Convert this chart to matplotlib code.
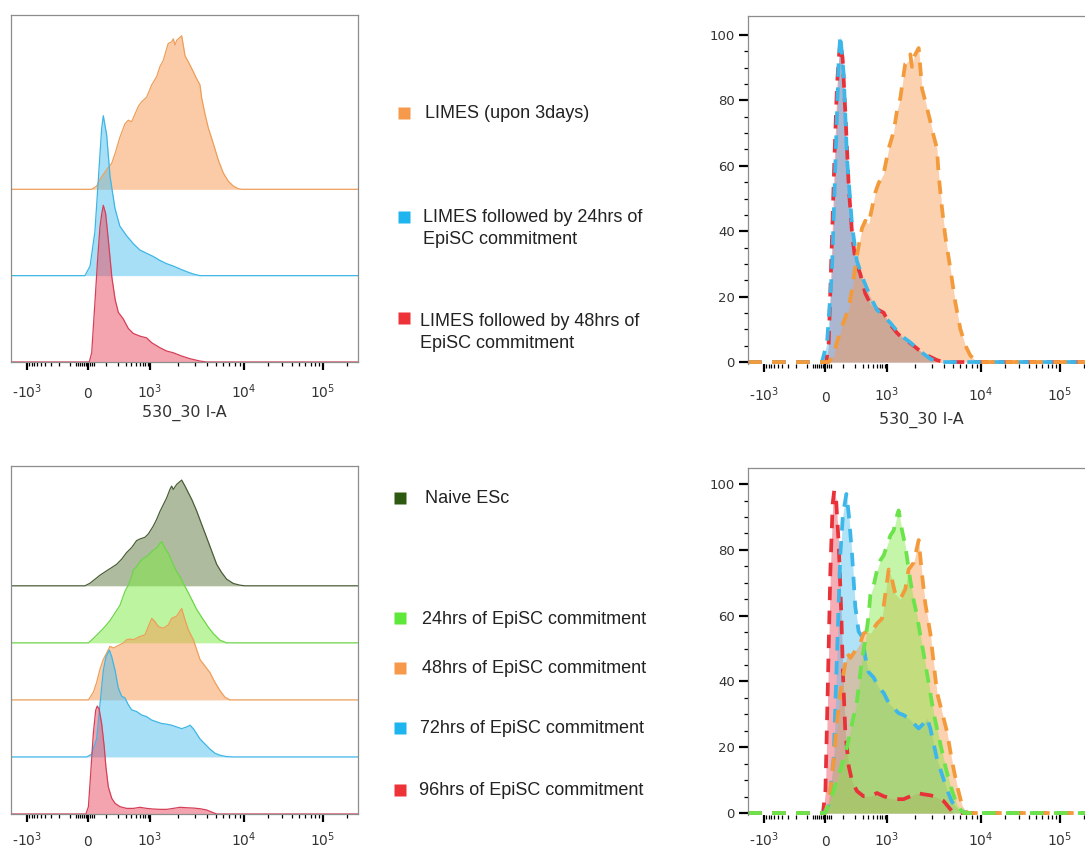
import numpy as np
import matplotlib
matplotlib.use("Agg")
import matplotlib.pyplot as plt

# ---- histogram data (x: 530_30 I-A intensity, y: % of mode shape) ----
lim_x = [18, 43, 61, 103, 142, 172, 224, 290, 344, 407, 480, 565, 665, 849, 1043, 1178, 1278,
         1386, 1503, 1566, 1700, 1772, 1846, 1923, 2088, 2175, 2266, 2361, 2562, 2893, 3140,
         3405, 3546, 3850, 4175, 4718, 5334, 6027, 6810, 7700, 8700, 9436]
lim_y = [0, 2, 6.4, 12.8, 17, 23.4, 34, 42.6, 45, 44, 49, 54, 57, 60, 68, 73.4, 80, 84, 91.5,
         95, 96, 98, 94, 97, 99, 100, 93.6, 87, 83, 76.6, 72, 68, 59.6, 49, 40, 29.8, 19, 10.6,
         5.3, 2.1, 0.4, 0]

l24_x = [-15, 10, 34, 52, 71, 81, 103, 128, 171, 222, 315, 441, 612, 845, 1084, 1277, 1504,
         1770, 2084, 2455, 2890, 3400]
l24_y = [0, 6, 27.5, 60, 92, 100, 88, 62, 42, 31, 25, 20, 16, 14, 12, 9.5, 7.5, 6, 4.2, 2.5, 1, 0]

l48_x = [6, 18, 35, 48, 61, 71, 81, 96, 115, 142, 172, 205, 266, 344, 442, 613, 849, 1043,
         1278, 1503, 1772, 2175, 2667, 3405, 4012]
l48_y = [0, 5.9, 39.7, 65, 86, 94.3, 100, 94.7, 77.8, 54.5, 40, 31.7, 27.5, 21.4, 18.2, 16.5,
         15.4, 12.3, 9.1, 7, 5.9, 3.8, 2.1, 0.6, 0]

nv_x = [-15, 10, 35, 61, 103, 142, 188, 245, 315, 407, 521, 613, 783, 921, 1086, 1178, 1278,
        1386, 1503, 1632, 1700, 1772, 1923, 2175, 2361, 2562, 2780, 3140, 3546, 4012, 4532,
        5121, 5786, 6540, 7700, 9066, 10300]
nv_y = [0, 2.5, 6.3, 10, 14.2, 17.3, 20.4, 25.2, 31.4, 36.2, 42.8, 44.3, 45.9, 49, 56.6, 62.9,
        70.4, 76.7, 83, 91.2, 94.3, 91.2, 95.9, 100, 94.3, 88, 81.8, 70.8, 58.2, 45.6, 33, 20.4,
        12.6, 6.3, 2.2, 0.6, 0]

e24_x = [2, 26, 52, 81, 128, 224, 290, 344, 407, 442, 521, 613, 722, 849, 1000, 1086, 1178,
         1278, 1331, 1446, 1566, 1772, 1923, 2088, 2230, 2460, 2780, 3140, 3546, 4175, 4718,
         5558, 6540]
e24_y = [0, 4.3, 9.2, 14.2, 22, 37, 50.8, 57, 65.3, 72, 75.2, 80.2, 83.5, 85.1, 88.4, 91.7,
         93.4, 98.3, 100, 93.4, 88.4, 76.9, 70.3, 65.3, 60, 52.5, 42.9, 33, 25.4, 15.5, 9.2,
         2.6, 0]

e48_x = [2, 26, 43, 61, 81, 103, 128, 156, 188, 224, 266, 315, 375, 442, 521, 613, 783, 921,
         1043, 1130, 1227, 1386, 1566, 1700, 1923, 2175, 2361, 2562, 2893, 3140, 3405, 3850,
         4350, 4915, 5558, 6280, 7096]
e48_y = [0, 8.3, 19.1, 33.5, 44.2, 51.4, 58.6, 56.8, 58.6, 60.4, 62.2, 65.8, 66.5, 65.8, 67.6,
         69.4, 71.2, 80.2, 89.2, 85.6, 80.2, 78.4, 82, 89.2, 91.7, 100, 87.4, 76.6, 65.8, 55,
         44.2, 37, 29.8, 19.1, 10.1, 2.9, 0]

e72_x = [-6, 18, 43, 61, 81, 98, 123, 142, 172, 204, 244, 290, 344, 407, 521, 665, 849, 1043,
         1178, 1331, 1503, 1700, 1923, 2175, 2460, 2670, 2893, 3140, 3405, 3850, 4350, 4915,
         5558, 6540, 7700]
e72_y = [0, 2.6, 17, 49, 81, 93.6, 100, 93.6, 80.8, 64.9, 56.9, 55.3, 48.9, 44.1, 42.5, 39.3,
         37.7, 34.5, 32.9, 31.3, 30.7, 29.7, 28.1, 26.5, 28.1, 29.7, 26.5, 21.7, 16.9, 12.1,
         7.3, 3.5, 1.6, 0.3, 0]

e96_x = [-10, 2, 13, 26, 38, 46, 56, 71, 87, 98, 115, 142, 172, 224, 315, 442, 613, 849, 1086,
         1278, 1503, 1772, 2088, 2460, 2893, 3405, 4012, 4718, 5121]
e96_y = [0, 6.8, 37.5, 74.5, 96, 100, 97.5, 83.7, 62, 43.4, 25, 14.5, 9.8, 6.8, 5.2, 5.2, 6.2,
         5.2, 4.6, 4.3, 4.3, 5.2, 6.2, 5.8, 5.5, 4.9, 3.7, 1.2, 0]

# modal height (% of max) of each sample
top_peaks = [96, 100, 98]           # LIMES, +24h, +48h
bot_peaks = [96, 92, 83, 97, 98]    # naive, 24h, 48h, 72h, 96h

top_labels = ["LIMES (upon 3days)", "LIMES followed by 24hrs of\nEpiSC commitment",
              "LIMES followed by 48hrs of\nEpiSC commitment"]
bot_labels = ["Naive ESc", "24hrs of EpiSC commitment", "48hrs of EpiSC commitment",
              "72hrs of EpiSC commitment", "96hrs of EpiSC commitment"]

x_major = [-1e3, 0, 1e3, 1e4, 1e5]
x_major_labels = ["-$10^{3}$", "0", "$10^{3}$", "$10^{4}$", "$10^{5}$"]
x_minor = ([-100 * k for k in range(1, 10)] + [-60, -50, -40, -30, -20, -10, 10, 20, 30]
           + [100 * k for k in range(1, 10)] + [1000 * k for k in range(2, 10)]
           + [10000 * k for k in range(2, 10)] + [200000])

# ---- biexponential-like display scale (anchored on the tick positions) ----
T_A = np.arcsinh(np.array(x_major) / 100.0)
P_A = np.array([27.0, 88.0, 150.0, 244.0, 323.0])
S_LO = (P_A[1] - P_A[0]) / (T_A[1] - T_A[0])
S_HI = (P_A[-1] - P_A[-2]) / (T_A[-1] - T_A[-2])


def fwd(x):
    t = np.arcsinh(np.asarray(x, float) / 100.0)
    p = np.interp(t, T_A, P_A)
    p = np.where(t < T_A[0], P_A[0] + (t - T_A[0]) * S_LO, p)
    p = np.where(t > T_A[-1], P_A[-1] + (t - T_A[-1]) * S_HI, p)
    return p


def inv(p):
    p = np.asarray(p, float)
    t = np.interp(p, P_A, T_A)
    t = np.where(p < P_A[0], T_A[0] + (p - P_A[0]) / S_LO, t)
    t = np.where(p > P_A[-1], T_A[-1] + (p - P_A[-1]) / S_HI, t)
    return 100.0 * np.sinh(t)


W, H = 1085, 851
fig = plt.figure(figsize=(W / 100, H / 100), dpi=100)


def px_axes(x0, y0, x1, y1):
    return fig.add_axes([x0 / W, 1 - y1 / H, (x1 - x0) / W, (y1 - y0) / H])


def setup_x(ax, pad):
    ax.set_xscale("function", functions=(fwd, inv))
    ax.set_xlim(inv(11), inv(358))
    ax.set_xticks(x_major)
    ax.set_xticklabels(x_major_labels)
    ax.set_xticks(x_minor, minor=True)
    ax.tick_params(axis="x", which="major", direction="out", length=6, width=1.6,
                   color="black", labelsize=10, pad=pad, labelcolor="#333333")
    ax.tick_params(axis="x", which="minor", direction="out", length=3.2, width=0.9,
                   color="black")
    # align all tick labels on their baseline, like the original
    for tk in ax.xaxis.get_major_ticks():
        tk.label1.set_verticalalignment("baseline")


def full(xs, ys, ax, scale):
    xmin, xmax = ax.get_xlim()
    x = np.concatenate([[xmin], xs, [xmax]])
    y = np.concatenate([[0], np.asarray(ys, float) * scale / 100.0, [0]])
    return x, y


base = {"orange": "#F99951", "blue": "#51C1F1", "red": "#EB4B5F",
        "dkgreen": "#617941", "green": "#7DEB41"}
edge = {"orange": "#EE9E5A", "blue": "#3DB6E6", "red": "#D54058",
        "dkgreen": "#4A5E38", "green": "#6CD648"}
dash = {"orange": "#F39A3A", "blue": "#3DB7E9", "red": "#E8323A", "green": "#6BE34A"}
square = {"orange": "#F7994A", "blue": "#1EB5EE", "red": "#EE3338",
          "dkgreen": "#2D5A10", "green": "#5EE83A"}


def stacked(ax, curves, peaks, colors, step, top, pad):
    setup_x(ax, pad)
    n = len(curves)
    for i, ((xs, ys), pk, c) in enumerate(zip(curves, peaks, colors)):
        off = (n - 1 - i) * step
        x, y = full(xs, ys, ax, pk)
        ax.fill_between(x, off, off + y, color=base[c], alpha=0.5, lw=0)
        ax.plot(x, off + y, color=edge[c], lw=0.9)
    ax.set_ylim(0, top)
    ax.set_yticks([])
    for s in ax.spines.values():
        s.set_color("#8c8c8c")
        s.set_linewidth(0.9)


def overlay(ax, curves, peaks, colors, top, pad):
    setup_x(ax, pad)
    for (xs, ys), pk, c in zip(curves, peaks, colors):
        x, y = full(xs, ys, ax, pk)
        ax.fill_between(x, 0, y, color=base[c], alpha=0.45, lw=0)
        ax.plot(x, y, color=dash[c], lw=2.7, ls=(0, (3.6, 2.8)), dash_capstyle="butt")
    ax.set_ylim(-0.6, top)
    ax.set_yticks(range(0, 101, 20))
    ax.set_yticks([v for v in range(5, 101, 5) if v % 20], minor=True)
    ax.tick_params(axis="y", which="major", direction="out", length=6.5, width=1.6,
                   labelsize=9.5, pad=3, labelcolor="#333333")
    ax.tick_params(axis="y", which="minor", direction="out", length=3, width=0.9)
    ax.spines["bottom"].set_visible(False)
    ax.spines["right"].set_visible(False)
    for s in ("left", "top"):
        ax.spines[s].set_color("#8c8c8c")
        ax.spines[s].set_linewidth(0.9)


top_curves = [(lim_x, lim_y), (l24_x, l24_y), (l48_x, l48_y)]
top_colors = ["orange", "blue", "red"]
bot_curves = [(nv_x, nv_y), (e24_x, e24_y), (e48_x, e48_y), (e72_x, e72_y), (e96_x, e96_y)]
bot_colors = ["dkgreen", "green", "orange", "blue", "red"]

ax1 = px_axes(11, 15, 358, 362)
stacked(ax1, top_curves, top_peaks, top_colors, 54, 217, 20)
ax1.set_xlabel("530_30 I-A", fontsize=11.5, color="#333333", labelpad=3)

ax3 = px_axes(11, 466, 358, 814)
stacked(ax3, bot_curves, bot_peaks, bot_colors, 51.8, 316, 17)

ax2 = px_axes(748, 16, 1095, 364)
overlay(ax2, top_curves[::-1], top_peaks[::-1], top_colors[::-1], 105.8, 21)
ax2.set_xlabel("530_30 I-A", fontsize=11.5, color="#333333", labelpad=5)

ax4 = px_axes(748, 468, 1095, 815)
overlay(ax4, bot_curves[1:][::-1], bot_peaks[1:][::-1], bot_colors[1:][::-1], 104.9, 16)

# ---- legends ----
leg = fig.add_axes([0, 0, 1, 1])
leg.set_xlim(0, W)
leg.set_ylim(H, 0)
leg.axis("off")

top_sq = [(404, 112.5), (404, 217), (404, 318)]
top_txt = [(425, 118), (423, 222), (420, 326)]
bot_sq = [(400, 498), (400, 618), (400, 668), (400, 728), (400, 790)]
bot_txt = [(425, 503), (422, 624), (422, 673), (420, 733), (419, 795)]

for labels, colors, sqs, txts in ((top_labels, top_colors, top_sq, top_txt),
                                  (bot_labels, bot_colors, bot_sq, bot_txt)):
    for lab, c, (sx, sy), (tx, ty) in zip(labels, colors, sqs, txts):
        leg.plot(sx, sy, marker="s", ms=8.5, color=square[c], mec="none")
        for k, line in enumerate(lab.split("\n")):
            leg.text(tx, ty + 21.5 * k, line, fontsize=13, family="Liberation Sans",
                     color="#222222", ha="left", va="baseline")

fig.savefig("out.png", dpi=100)
